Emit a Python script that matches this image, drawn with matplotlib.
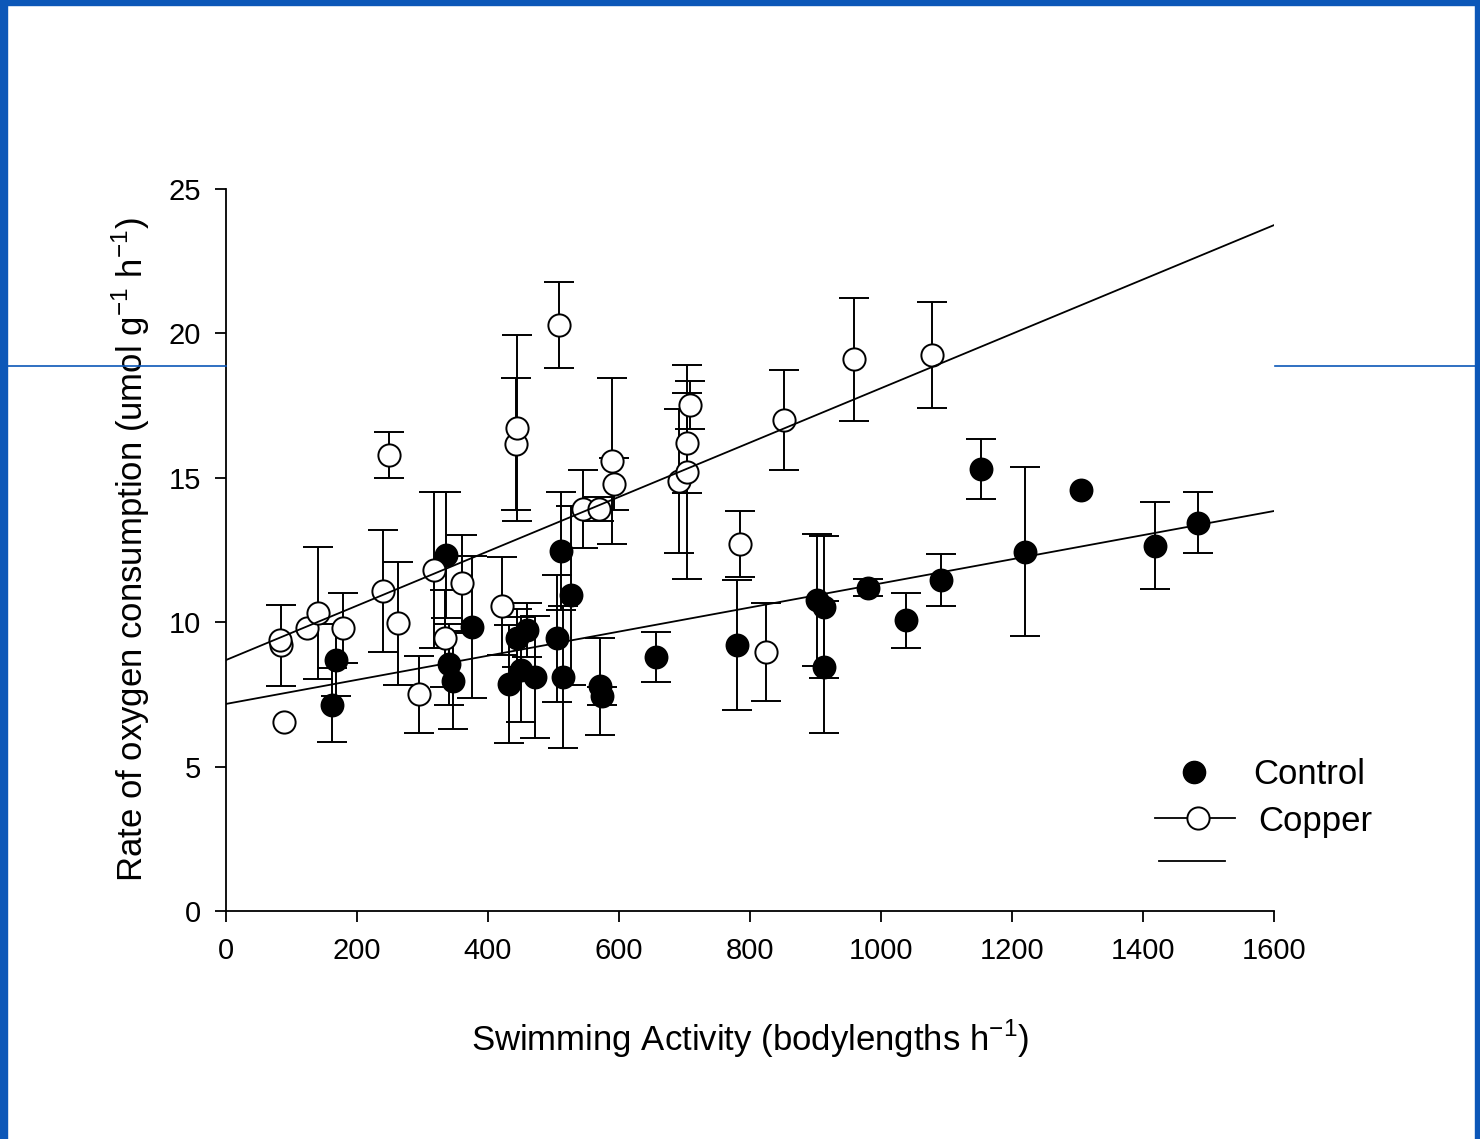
import matplotlib
matplotlib.use("Agg")
import matplotlib.pyplot as plt
from matplotlib.lines import Line2D
from matplotlib.patches import Rectangle

# Control group: swimming activity, O2 consumption, error
ctrl_x = [162, 168, 336, 340, 346, 375, 432, 444, 450, 460, 471, 505, 511, 514, 527,
          571, 574, 656, 780, 902, 913, 913, 980, 1038, 1092, 1153, 1220, 1305, 1419, 1484]
ctrl_y = [7.13, 8.69, 12.33, 8.55, 7.96, 9.83, 7.86, 9.45, 8.35, 9.73, 8.10, 9.45, 12.47, 8.10, 10.94,
          7.79, 7.44, 8.80, 9.20, 10.77, 10.52, 8.45, 11.20, 10.07, 11.46, 15.30, 12.44, 14.58, 12.65, 13.44]
ctrl_err = [1.28, 1.24, 2.18, 1.40, 1.67, 2.46, 2.05, 1.00, 1.82, 0.92, 2.12, 2.20, 2.04, 2.47, 3.10,
            1.68, 0.30, 0.87, 2.25, 2.30, 2.45, 2.30, 0.30, 0.95, 0.90, 1.05, 2.93, 0.0, 1.51, 1.06]

# Copper group
cop_x = [84, 82, 88, 124, 140, 179, 240, 249, 262, 295, 318, 334, 360, 421, 443,
         444, 509, 545, 570, 589, 592, 691, 704, 704, 708, 785, 824, 852, 959, 1078]
cop_y = [9.20, 9.38, 6.55, 9.80, 10.32, 9.80, 11.08, 15.79, 9.97, 7.51, 11.81, 9.45, 11.36, 10.56, 16.17,
         16.72, 20.29, 13.92, 13.92, 15.58, 14.79, 14.89, 15.20, 16.20, 17.52, 12.70, 8.97, 17.00, 19.10, 19.25]
cop_err = [1.40, 0.0, 0.0, 0.0, 2.27, 1.20, 2.10, 0.80, 2.13, 1.33, 2.70, 1.68, 1.65, 1.70, 2.30,
           3.22, 1.49, 1.35, 0.40, 2.87, 0.90, 2.50, 3.70, 1.72, 0.82, 1.15, 1.70, 1.72, 2.12, 1.85]

# regression lines (endpoints at x = 0 and 1600)
fit_x = [0, 1600]
ctrl_fit = [7.17, 13.85]
cop_fit = [8.69, 23.75]

x_ticks = [0, 200, 400, 600, 800, 1000, 1200, 1400, 1600]
y_ticks = [0, 5, 10, 15, 20, 25]

plt.rcParams["font.family"] = ["Liberation Sans", "DejaVu Sans"]

fig = plt.figure(figsize=(14.8, 11.39), dpi=100)

# slide decoration
blue = "#0c57b8"
fig.patches.append(Rectangle((0, 0), 7 / 1480, 1, transform=fig.transFigure, color=blue, zorder=0))
fig.patches.append(Rectangle((0, 1 - 5 / 1139), 1, 5 / 1139, transform=fig.transFigure, color=blue, zorder=0))
fig.patches.append(Rectangle((1475 / 1480, 0), 5 / 1480, 1, transform=fig.transFigure, color=blue, zorder=0))
ly = 1 - 366 / 1139
fig.lines.append(Line2D([7 / 1480, 226 / 1480], [ly, ly], transform=fig.transFigure, color=blue, lw=1.2))
fig.lines.append(Line2D([1275 / 1480, 1475 / 1480], [ly, ly], transform=fig.transFigure, color=blue, lw=1.2))

ax = fig.add_axes([226 / 1480, 1 - 911 / 1139, (1274 - 226) / 1480, (911 - 189) / 1139])


def with_err(xs, ys, es):
    keep = [i for i, e in enumerate(es) if e > 0]
    return [xs[i] for i in keep], [ys[i] for i in keep], [es[i] for i in keep]


ebkw = dict(fmt="none", ecolor="black", elinewidth=1.4, capsize=11, capthick=1.4)
cx, cy, ce = with_err(ctrl_x, ctrl_y, ctrl_err)
ax.errorbar(cx, cy, yerr=ce, zorder=2, **ebkw)
px, py, pe = with_err(cop_x, cop_y, cop_err)
ax.errorbar(px, py, yerr=pe, zorder=2, **ebkw)
ax.plot(ctrl_x, ctrl_y, "o", ms=16, mfc="black", mec="black", mew=1.2, zorder=3)
ax.plot(cop_x, cop_y, "o", ms=16, mfc="white", mec="black", mew=1.4, zorder=4)
ax.plot(fit_x, ctrl_fit, color="black", lw=1.3, zorder=5)
ax.plot(fit_x, cop_fit, color="black", lw=1.3, zorder=5)

ax.set_xlim(0, 1600)
ax.set_ylim(0, 25)
ax.set_xticks(x_ticks)
ax.set_yticks(y_ticks)
for s in ("top", "right"):
    ax.spines[s].set_visible(False)
for s in ("left", "bottom"):
    ax.spines[s].set_linewidth(1.3)
ax.tick_params(direction="out", length=8, width=1.3, labelsize=21)
ax.tick_params(axis="x", pad=11)
ax.tick_params(axis="y", pad=10)

ax.set_xlabel("Swimming Activity (bodylengths h$^{\\mathregular{-1}}$)", fontsize=25, labelpad=38)
ax.set_ylabel("Rate of oxygen consumption (umol g$^{\\mathregular{-1}}$ h$^{\\mathregular{-1}}$)",
              fontsize=25, labelpad=12)

# legend drawn in figure coordinates
def fy(py):
    return 1 - py / 1139


def fx(px):
    return px / 1480


fig.lines.append(Line2D([fx(1194)], [fy(772)], transform=fig.transFigure, marker="o", ms=16,
                        mfc="black", mec="black", ls="none"))
fig.text(fx(1253), fy(774), "Control", fontsize=25, va="center", ha="left")
fig.lines.append(Line2D([fx(1155), fx(1235)], [fy(818), fy(818)], transform=fig.transFigure,
                        color="black", lw=1.3))
fig.lines.append(Line2D([fx(1198)], [fy(818)], transform=fig.transFigure, marker="o", ms=16,
                        mfc="white", mec="black", mew=1.4, ls="none"))
fig.text(fx(1258), fy(822), "Copper", fontsize=25, va="center", ha="left")
fig.lines.append(Line2D([fx(1159), fx(1225)], [fy(861), fy(861)], transform=fig.transFigure,
                        color="black", lw=1.3))

fig.savefig("out.png", dpi=100)
